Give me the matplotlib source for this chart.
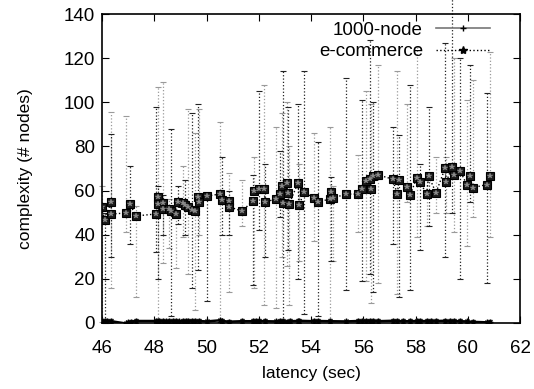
import matplotlib
matplotlib.use("Agg")
import matplotlib.pyplot as plt
from matplotlib.lines import Line2D
import numpy as np

plt.rcParams['font.family'] = ['Liberation Sans', 'DejaVu Sans']

# e-commerce: latency, mean complexity, error bar low / high
ecom_x = [46.0, 46.1, 46.35, 46.35, 46.9, 47.07, 47.3, 48.07, 48.14, 48.13,
          48.33, 48.32, 48.57, 48.64, 48.83, 48.9, 49.1, 49.18, 49.3, 49.45,
          49.56, 49.67, 49.7, 50.0, 50.5, 50.6, 50.87, 50.87, 51.36, 51.77,
          51.8, 52.0, 52.2, 52.24, 52.66, 52.8, 52.9, 52.93, 53.08, 53.1,
          53.16, 53.5, 53.55, 53.73, 54.1, 54.25, 54.73, 54.75, 54.85, 55.33,
          55.8, 55.94, 56.1, 56.26, 56.3, 56.37, 56.56, 57.12, 57.3, 57.37,
          57.66, 57.8, 58.04, 58.17, 58.42, 58.5, 58.78, 59.13, 59.17, 59.4,
          59.47, 59.7, 59.96, 60.08, 60.18, 60.72, 60.85]
ecom_y = [52.4, 46.7, 54.8, 49.4, 49.8, 53.9, 48.5, 49.4, 57.1, 53.9,
          54.4, 51.7, 51.7, 50.7, 49.4, 54.8, 54.4, 53.5, 52.6, 51.2,
          50.7, 57.1, 54.8, 57.5, 58.4, 55.7, 55.3, 52.6, 50.7, 55.3,
          59.8, 60.7, 60.7, 54.8, 56.2, 58.4, 62.1, 54.4, 63.4, 58.9,
          53.9, 63.4, 53.5, 59.4, 56.6, 54.8, 56.2, 59.4, 56.6, 58.4,
          58.4, 60.7, 64.3, 65.2, 60.7, 66.6, 67.1, 65.2, 58.4, 64.8,
          61.6, 58.0, 65.8, 63.9, 58.4, 66.6, 59.0, 70.2, 63.9, 70.7,
          67.1, 69.0, 62.7, 66.6, 61.3, 62.7, 66.6]
ecom_lo = [0.5, 1, 16, 30, 41, 36, 12, 32, 1, 20,
           27, 40, 34, 3, 25, 45, 39, 40, 22, 16,
           6, 24, 40, 10, 0.5, 40, 14, 40, 44, 17,
           16, 42, 8, 30, 7, 48, 30, 1, 26, 33,
           8, 20, 28, 4, 37, 3, 1, 28, 28, 15,
           41, 19, 19, 22, 9, 14, 18, 36, 13, 12,
           55, 15, 39, 33, 44, 44, 50, 30, 50, 50,
           41, 20, 35, 55, 48, 18, 39]
ecom_hi = [62, 50, 95.6, 85.6, 94, 71, 53, 98, 107, 62,
           109, 58, 56, 88, 55, 62, 71, 65, 97, 95,
           86, 99, 97, 58, 91, 75, 68, 60, 65, 67,
           75, 105, 108, 72, 89, 78, 95, 114, 100, 98,
           80, 99, 72, 114, 86, 82, 89, 66, 62, 111,
           76, 101, 105, 128, 99, 100, 117, 89, 114, 85,
           99, 108, 125, 72, 65, 98, 75, 127, 75, 150,
           120, 120, 101, 117, 110, 104, 123]

# 1000-node: near zero
node_x = [46.0, 46.1, 46.2, 46.35, 46.9, 47.0, 47.1, 47.3, 48.07, 48.14,
          48.2, 48.33, 48.45, 48.57, 48.7, 48.83, 48.95, 49.1, 49.2, 49.3,
          49.45, 49.56, 49.7, 50.0, 50.5, 50.6, 50.87, 51.36, 51.77, 51.9,
          52.0, 52.24, 52.66, 52.8, 52.93, 53.08, 53.2, 53.5, 53.55, 54.1,
          54.25, 54.73, 55.33, 55.8, 55.94, 56.1, 56.26, 56.37, 56.56, 57.12,
          57.3, 57.5, 57.8, 58.04, 58.17, 58.42, 58.6, 58.78, 59.13, 59.3,
          59.47, 59.7, 59.96, 60.18, 60.72, 60.85]
node_y = [1.0, 0.8, 0.9, 0.8, -0.2, 0.3, 0.6, 0.9, 0.9, 1.0,
          0.8, 0.9, 0.7, 0.8, 0.9, 0.8, 0.7, 0.9, 0.8, 0.9,
          1.0, 0.8, 0.9, 0.7, 1.2, 0.9, 0.6, 0.8, 0.8, 0.9,
          0.9, 0.8, 0.7, 0.8, 0.9, 0.6, 0.8, 0.9, 1.0, 0.8,
          0.9, 0.8, 0.7, 0.9, 0.8, 1.0, 0.9, 0.9, 0.8, 1.0,
          0.9, 0.8, 0.8, 0.9, 0.8, 0.9, 0.8, 0.9, 1.0, 0.8,
          0.9, 0.8, 0.7, 0.5, 0.3, 0.4]

fig = plt.figure(figsize=(5.34, 3.89), dpi=100)
ax = fig.add_axes([0.191, 0.1697, 0.783, 0.7943])

ex = np.array(ecom_x)
ey = np.array(ecom_y)
err = np.vstack([ey - np.array(ecom_lo), np.array(ecom_hi) - ey])

# error bars, alternating grey / black dotted like the original
for k, col in enumerate(['#9a9a9a', '#222222']):
    sel = np.arange(len(ex)) % 2 == k
    eb = ax.errorbar(ex[sel], ey[sel], yerr=err[:, sel], fmt='none',
                     ecolor=col, elinewidth=0.9, capsize=2.5, capthick=0.8)
    for c in eb[2]:
        c.set_linestyle(':')
        c.set_clip_on(False)
    for c in eb[1]:
        c.set_clip_on(False)

order = np.argsort(ex)
ax.plot(ex[order], ey[order], ':', color='k', lw=1)
ax.plot(ex, ey, 's', ms=5.5, mfc='#1a1a1a', mec='k', mew=0.8)
ax.plot(ex, ey, '*', ms=4, mfc='#8a8a8a', mec='#8a8a8a', mew=0.3)

nx = np.array(node_x)
ny = np.array(node_y)
ax.errorbar(nx, ny, yerr=0.8, fmt='none', ecolor='#333333', elinewidth=0.6, capsize=1.5)
ax.plot(nx, ny, '-', color='k', lw=1.8, marker='+', ms=5, mew=1)
ax.plot(nx, ny, 'x', color='k', ms=3.5, mew=0.8)

ax.set_xlim(46, 62)
ax.set_ylim(0, 140)
ax.set_xticks(np.arange(46, 63, 2))
ax.set_yticks(np.arange(0, 141, 20))
ax.tick_params(direction='in', top=True, right=True, length=5, labelsize=13.5)
ax.tick_params(axis='x', pad=12)
ax.tick_params(axis='y', pad=5)
for s in ax.spines.values():
    s.set_linewidth(1.2)

ax.set_xlabel("latency (sec)", fontsize=12.5, labelpad=7)
ax.set_ylabel("complexity (# nodes)", fontsize=12.5, labelpad=22)

handles = [Line2D([], [], color='#777777', lw=1.2, marker='+', ms=5, mec='k'),
           Line2D([], [], color='k', lw=1, ls=':', marker='*', ms=6)]
ax.legend(handles, ['1000-node', 'e-commerce'], loc='upper right', frameon=False,
          markerfirst=False, fontsize=13.5, handlelength=2.9,
          bbox_to_anchor=(0.947, 1.0), borderaxespad=0.0,
          labelspacing=0.25, handletextpad=0.7)

fig.savefig("out.png", dpi=100)
